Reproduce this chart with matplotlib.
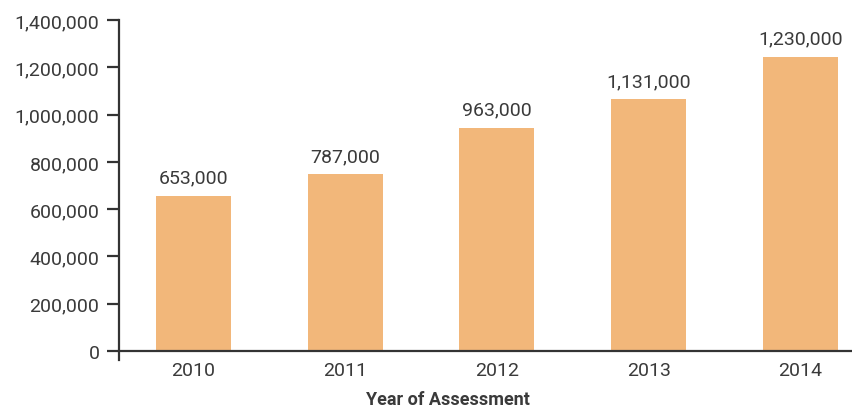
import matplotlib.pyplot as plt
import matplotlib.ticker as mticker

years = ["2010", "2011", "2012", "2013", "2014"]
# bar heights as drawn in the picture
heights = [657000, 749000, 944000, 1066000, 1244000]
# value labels printed above the bars
labels = ["653,000", "787,000", "963,000", "1,131,000", "1,230,000"]
yticks = [0, 200000, 400000, 600000, 800000, 1000000, 1200000, 1400000]

plt.rcParams["font.family"] = ["Roboto", "DejaVu Sans"]
text_color = "#3a3a3a"
axis_color = "#333333"
bar_color = "#F2B77A"

fig = plt.figure(figsize=(8.52, 4.14), dpi=100)
ax = fig.add_axes([119 / 852, 53 / 414, 733 / 852, 340 / 414])

x = list(range(len(years)))
ax.bar(x, heights, width=0.494, color=bar_color, zorder=2)

for i in x:
    ax.annotate(labels[i], (i, heights[i]), xytext=(0, 6.5),
                textcoords="offset points", ha="center", va="bottom",
                fontsize=14, color=text_color)

ax.set_xlim(-0.489, 4.339)
ax.set_ylim(-38000, 1400000)
ax.set_yticks(yticks)
ax.yaxis.set_major_formatter(mticker.FuncFormatter(lambda v, p: f"{int(v):,}"))
ax.set_xticks(x)
ax.set_xticklabels(years)

for s in ["top", "right"]:
    ax.spines[s].set_visible(False)
ax.spines["bottom"].set_position(("data", 0))
ax.spines["left"].set_color(axis_color)
ax.spines["bottom"].set_color(axis_color)
ax.spines["left"].set_linewidth(1.6)
ax.spines["bottom"].set_linewidth(1.6)

ax.tick_params(axis="y", length=8.6, width=1.6, color=axis_color,
               labelsize=14, labelcolor=text_color, pad=5.5)
ax.tick_params(axis="x", length=0, labelsize=14, labelcolor=text_color, pad=7)

fig.text(448 / 852, 5 / 414, "Year of Assessment", ha="center", va="bottom",
         fontsize=13, fontweight="bold", color=text_color)

fig.savefig("out.png", dpi=100)
